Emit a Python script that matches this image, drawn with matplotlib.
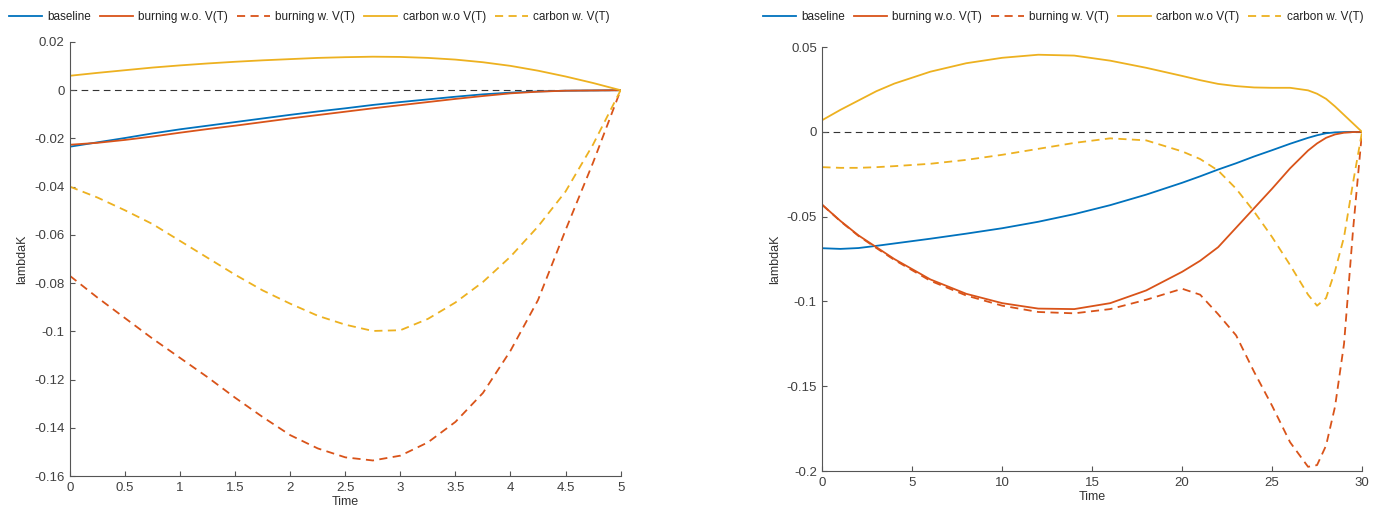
import matplotlib
matplotlib.use("Agg")
import matplotlib.pyplot as plt

plt.rcParams["font.family"] = ["Liberation Sans", "DejaVu Sans"]

# colours (MATLAB default order)
BLUE = "#0072BD"
ORANGE = "#D95319"
YELLOW = "#EDB120"
AXIS = "#555555"

labels = ["baseline", "burning w.o. V(T)", "burning w. V(T)",
          "carbon w.o V(T)", "carbon w. V(T)"]

# ---- left panel (T = 5) ----
t_left = [0, 0.25, 0.5, 0.75, 1, 1.25, 1.5, 1.75, 2, 2.25, 2.5,
          2.75, 3, 3.25, 3.5, 3.75, 4, 4.25, 4.5, 4.75, 5]
baseline_left = [-0.0234, -0.0216, -0.0198, -0.0179, -0.0162, -0.0147, -0.0132,
                 -0.0117, -0.0102, -0.0088, -0.0075, -0.0061, -0.0049, -0.0038,
                 -0.0027, -0.0017, -0.0010, -0.0005, -0.0002, -0.0001, 0.0]
burn_wo_left = [-0.0226, -0.0218, -0.0206, -0.0192, -0.0176, -0.0161, -0.0147,
                -0.0132, -0.0117, -0.0103, -0.0089, -0.0075, -0.0062, -0.0049,
                -0.0036, -0.0024, -0.0013, -0.0006, -0.0002, -0.0001, 0.0]
burn_w_left = [-0.0770, -0.0860, -0.0945, -0.1030, -0.1110, -0.1190, -0.1275,
               -0.1355, -0.1430, -0.1485, -0.1522, -0.1535, -0.1515, -0.1460,
               -0.1375, -0.1255, -0.1080, -0.0870, -0.0580, -0.0300, 0.0]
carb_wo_left = [0.0060, 0.0072, 0.0083, 0.0094, 0.0103, 0.0111, 0.0118, 0.0124,
                0.0129, 0.0134, 0.0137, 0.0139, 0.0138, 0.0134, 0.0127, 0.0116,
                0.0101, 0.0081, 0.0057, 0.0030, 0.0]
carb_w_left = [-0.0400, -0.0445, -0.0498, -0.0555, -0.0625, -0.0695, -0.0765,
               -0.0830, -0.0885, -0.0935, -0.0972, -0.0998, -0.0995, -0.0948,
               -0.0880, -0.0795, -0.0690, -0.0565, -0.0420, -0.0225, 0.0]
xticks_left = [0, 0.5, 1, 1.5, 2, 2.5, 3, 3.5, 4, 4.5, 5]
xlabels_left = ["0", "0.5", "1", "1.5", "2", "2.5", "3", "3.5", "4", "4.5", "5"]
yticks_left = [0.02, 0, -0.02, -0.04, -0.06, -0.08, -0.1, -0.12, -0.14, -0.16]
ylabels_left = ["0.02", "0", "-0.02", "-0.04", "-0.06", "-0.08", "-0.1",
                "-0.12", "-0.14", "-0.16"]

# ---- right panel (T = 30) ----
t_right = [0, 1, 2, 3, 4, 6, 8, 10, 12, 14, 16, 18, 20, 21, 22, 23, 24, 25,
           26, 27, 27.5, 28, 28.5, 29, 29.5, 30]
baseline_right = [-0.0686, -0.0690, -0.0685, -0.0672, -0.0658, -0.0630, -0.0600,
                  -0.0568, -0.0530, -0.0485, -0.0432, -0.0370, -0.0300, -0.0262,
                  -0.0222, -0.0185, -0.0145, -0.0108, -0.0070, -0.0035, -0.0020,
                  -0.0008, -0.0003, -0.0001, 0.0, 0.0]
burn_wo_right = [-0.0431, -0.0525, -0.0610, -0.0680, -0.0750, -0.0870, -0.0955,
                 -0.1010, -0.1042, -0.1045, -0.1010, -0.0935, -0.0825, -0.0760,
                 -0.0680, -0.0565, -0.0450, -0.0335, -0.0215, -0.0110, -0.0068,
                 -0.0035, -0.0015, -0.0005, -0.0001, 0.0]
burn_w_right = [-0.0431, -0.0527, -0.0613, -0.0685, -0.0755, -0.0878, -0.0965,
                -0.1025, -0.1062, -0.1070, -0.1045, -0.0990, -0.0925, -0.0960,
                -0.1075, -0.1200, -0.1415, -0.1615, -0.1830, -0.1975, -0.1965,
                -0.1850, -0.1620, -0.1250, -0.0580, 0.0]
carb_wo_right = [0.0070, 0.0130, 0.0185, 0.0240, 0.0285, 0.0355, 0.0405, 0.0437,
                 0.0455, 0.0450, 0.0420, 0.0378, 0.0330, 0.0305, 0.0283, 0.0270,
                 0.0262, 0.0260, 0.0260, 0.0245, 0.0225, 0.0195, 0.0150, 0.0100,
                 0.0050, 0.0]
carb_w_right = [-0.0208, -0.0212, -0.0212, -0.0208, -0.0202, -0.0188, -0.0165,
                -0.0135, -0.0100, -0.0065, -0.0038, -0.0050, -0.0115, -0.0160,
                -0.0228, -0.0335, -0.0470, -0.0620, -0.0785, -0.0960, -0.1025,
                -0.0980, -0.0820, -0.0620, -0.0300, 0.0]
xticks_right = [0, 5, 10, 15, 20, 25, 30]
xlabels_right = ["0", "5", "10", "15", "20", "25", "30"]
yticks_right = [0.05, 0, -0.05, -0.1, -0.15, -0.2]
ylabels_right = ["0.05", "0", "-0.05", "-0.1", "-0.15", "-0.2"]


def draw_panel(ax, t, series, xticks, xlabels, yticks, ylabels):
    styles = [(BLUE, "-"), (ORANGE, "-"), (ORANGE, "--"), (YELLOW, "-"), (YELLOW, "--")]
    handles = []
    for y, (c, ls), lab in zip(series, styles, labels):
        h, = ax.plot(t, y, color=c, linestyle=ls, lw=1.3, label=lab,
                     dashes=(4.5, 3) if ls == "--" else (None, None))
        handles.append(h)
    ax.axhline(0, color="#333333", lw=0.8, dashes=(6, 4), zorder=0)
    ax.set_xlim(t[0], t[-1])
    ax.set_ylim(yticks[-1], yticks[0])
    ax.set_xticks(xticks)
    ax.set_xticklabels(xlabels)
    ax.set_yticks(yticks)
    ax.set_yticklabels(ylabels)
    ax.set_xlabel("Time", fontsize=9, color="#333333", labelpad=2)
    ax.set_ylabel("lambdaK", fontsize=9, color="#333333", labelpad=4)
    for s in ["top", "right"]:
        ax.spines[s].set_visible(False)
    for s in ["left", "bottom"]:
        ax.spines[s].set_color(AXIS)
        ax.spines[s].set_linewidth(0.8)
    ax.tick_params(direction="in", length=3.5, width=0.8, color=AXIS,
                   labelcolor="#404040", labelsize=9.5, pad=4)
    return handles


fig = plt.figure(figsize=(13.73, 5.12), dpi=100)
ax1 = fig.add_axes([0.051, 0.070, 0.401, 0.848])
ax2 = fig.add_axes([0.599, 0.080, 0.393, 0.828])

h1 = draw_panel(ax1, t_left,
                [baseline_left, burn_wo_left, burn_w_left, carb_wo_left, carb_w_left],
                xticks_left, xlabels_left, yticks_left, ylabels_left)
h2 = draw_panel(ax2, t_right,
                [baseline_right, burn_wo_right, burn_w_right, carb_wo_right, carb_w_right],
                xticks_right, xlabels_right, yticks_right, ylabels_right)

leg_kw = dict(ncol=5, frameon=False, fontsize=8.5, handlelength=2.8,
              handletextpad=0.45, columnspacing=0.75, loc="center left",
              borderaxespad=0, labelcolor="#222222")
fig.legend(h1, labels, bbox_to_anchor=(0.003, 0.967), **leg_kw)
fig.legend(h2, labels, bbox_to_anchor=(0.552, 0.967), **leg_kw)

fig.savefig("out.png", dpi=100)
